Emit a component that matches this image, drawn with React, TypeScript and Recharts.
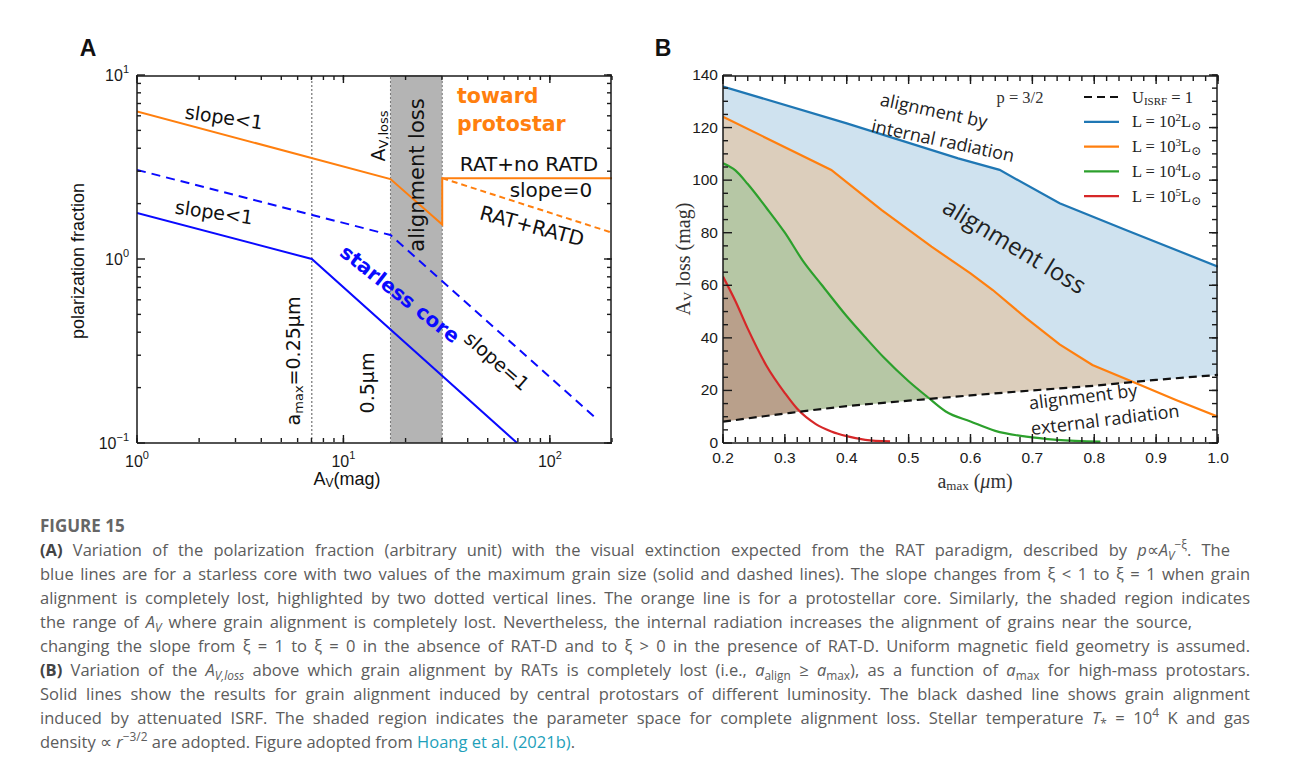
import React from 'react'
import { ComposedChart, Line, Area, XAxis, YAxis, ReferenceArea, ReferenceLine, Legend } from 'recharts'

// ---------- panel A: polarization fraction vs A_V (log-log) ----------
const protoAv = [1, 16.9, 30.1, 30.1, 200]
const protoP = [6.34, 2.72, 1.54, 2.75, 2.75]
const protoRatdAv = [30.1, 200]
const protoRatdP = [2.75, 1.39]
const starSmallAv = [1, 7.03, 69.4] // a_max = 0.25 um
const starSmallP = [1.78, 1.0, 0.1]
const starLargeAv = [1, 16.9, 164] // a_max = 0.5 um
const starLargeP = [3.05, 1.35, 0.139]
const lossFrom = 16.9
const lossTo = 30.1
const smallLossAv = 7.03

const aXMajor = [1, 10, 100]
const aYMajor = [0.1, 1, 10]
const aXTicks = [1, 2, 3, 4, 5, 6, 7, 8, 9, 10, 20, 30, 40, 50, 60, 70, 80, 90, 100, 200]
const aYTicks = [0.1, 0.2, 0.3, 0.4, 0.5, 0.6, 0.7, 0.8, 0.9, 1, 2, 3, 4, 5, 6, 7, 8, 9, 10]

// ---------- panel B: A_V,loss vs a_max ----------
const isrfA = [0.2, 0.3, 0.4, 0.5, 0.6, 0.7, 0.8, 0.9, 1.0]
const isrfAv = [8.1, 11.2, 14.0, 16.1, 18.1, 20.0, 21.8, 24.0, 25.9]
const l2A = [0.2, 0.4, 0.58, 0.647, 0.744, 0.851, 1.0]
const l2Av = [135.6, 121.6, 108.3, 103.9, 91.2, 81.0, 67.1]
const l3A = [0.2, 0.375, 0.456, 0.537, 0.6, 0.636, 0.69, 0.744, 0.797, 0.862, 0.932, 1.0]
const l3Av = [124.1, 103.9, 88.7, 74.7, 64.5, 58.2, 47.5, 37.5, 29.7, 23.3, 16.4, 10.0]
const l4A = [0.2, 0.22, 0.24, 0.27, 0.3, 0.33, 0.36, 0.4, 0.43, 0.46, 0.5, 0.53, 0.56, 0.6, 0.64, 0.69, 0.74, 0.81]
const l4Av = [106.4, 103.7, 98.5, 89.5, 80, 69, 60, 48.2, 40.2, 32.5, 23.5, 17.6, 12, 8.2, 4.6, 2.4, 1.2, 0.5]
const l5A = [0.2, 0.22, 0.24, 0.27, 0.3, 0.32, 0.35, 0.375, 0.4, 0.43, 0.47]
const l5Av = [63.3, 54, 43.5, 29.5, 19, 13, 7.2, 4.4, 2.6, 1.2, 0.6]

const bSeries = [
  { exp: '', color: '#111111', dash: '8 5', fill: '#ffffff', xs: isrfA, ys: isrfAv, curve: 'monotone' },
  { exp: '2', color: '#1f77b4', dash: undefined, fill: '#cfe2ef', xs: l2A, ys: l2Av, curve: 'linear' },
  { exp: '3', color: '#ff7f0e', dash: undefined, fill: '#dccebc', xs: l3A, ys: l3Av, curve: 'linear' },
  { exp: '4', color: '#2ca02c', dash: undefined, fill: '#b6c7a5', xs: l4A, ys: l4Av, curve: 'monotone' },
  { exp: '5', color: '#d62728', dash: undefined, fill: '#b9a08b', xs: l5A, ys: l5Av, curve: 'monotone' },
]
const bXMajor = [0.2, 0.3, 0.4, 0.5, 0.6, 0.7, 0.8, 0.9, 1.0]
const bYMajor = [0, 20, 40, 60, 80, 100, 120, 140]
const bXTicks = Array.from({ length: 41 }, (_, i) => (20 + 2 * i) / 100)
const bYTicks = Array.from({ length: 29 }, (_, i) => i * 5)

const pts = (xs: number[], ys: number[]) => xs.map((x, i) => ({ x, y: ys[i] }))

const SANS = '"Liberation Sans", Arial, sans-serif'
const NOTE = '"DejaVu Sans", sans-serif'
const SERIF = '"Liberation Serif", "DejaVu Serif", serif'
const ROUND = '"Open Sans", sans-serif'
const INK = '#1a1a1a'

// plot sizes, used to turn tick lengths (px) into data units on the left edge
const A_PLOT_W = 475
const B_PLOT_W = 495

const powLabel = (v: number) => {
  const e = Math.round(Math.log10(v))
  return e < 0 ? '\u2212' + Math.abs(e) : String(e)
}
const isPow10 = (v: number) => Math.abs(Math.log10(v) - Math.round(Math.log10(v))) < 1e-6

const aXLabel = (p: any) => (
  <text x={p.x} y={p.y + 24} textAnchor="middle" fontSize={16} fontFamily={SANS} fill={INK}>
    10<tspan dy={-8} fontSize={11}>{powLabel(p.payload.value)}</tspan>
  </text>
)
const aYLabel = (p: any) => (
  <text x={p.x - 8} y={p.y + 6} textAnchor="end" fontSize={16} fontFamily={SANS} fill={INK}>
    10<tspan dy={-8} fontSize={11}>{powLabel(p.payload.value)}</tspan>
  </text>
)
const bXLabel = (p: any) => (
  <text x={p.x} y={p.y + 20} textAnchor="middle" fontSize={15.5} fontFamily={SANS} fill={INK}>{Number(p.payload.value).toFixed(1)}</text>
)
const bYLabel = (p: any) => (
  <text x={p.x - 5} y={p.y + 5} textAnchor="end" fontSize={15.5} fontFamily={SANS} fill={INK}>{String(p.payload.value)}</text>
)
const noLabel = () => <g />

const axisLine = { stroke: INK, strokeWidth: 1.5 }
const tickLine = { stroke: INK, strokeWidth: 1.4 }

// inward tick marks on bottom, top and right: one mirrored axis per side and per tick length
function tickAxes(log: boolean, xDom: number[], yDom: number[], xAll: number[], xMaj: number[], yAll: number[], yMaj: number[], big: number, small: number) {
  const sc = (log ? 'log' : 'auto') as any
  const common = { type: 'number' as const, allowDataOverflow: true, interval: 0 as const, tick: noLabel, tickMargin: 0, mirror: true, tickLine }
  return [
    <XAxis key="bM" xAxisId="bM" orientation="bottom" dataKey="x" scale={sc} domain={xDom} ticks={xMaj} tickSize={big} height={1} axisLine={false} {...common} />,
    <XAxis key="bm" xAxisId="bm" orientation="bottom" dataKey="x" scale={sc} domain={xDom} ticks={xAll} tickSize={small} height={1} axisLine={false} {...common} />,
    <XAxis key="tM" xAxisId="tM" orientation="top" dataKey="x" scale={sc} domain={xDom} ticks={xMaj} tickSize={big} height={1} axisLine={false} {...common} />,
    <XAxis key="tm" xAxisId="tm" orientation="top" dataKey="x" scale={sc} domain={xDom} ticks={xAll} tickSize={small} height={1} axisLine={axisLine} {...common} />,
    <YAxis key="rM" yAxisId="rM" orientation="right" scale={sc} domain={yDom} ticks={yMaj} tickSize={big} width={1} axisLine={false} {...common} />,
    <YAxis key="rm" yAxisId="rm" orientation="right" scale={sc} domain={yDom} ticks={yAll} tickSize={small} width={1} axisLine={axisLine} {...common} />,
  ]
}

// left-edge tick marks as short reference segments
function leftTicks(ticks: number[], isMajor: (v: number) => boolean, x0: number, endX: (px: number) => number, big: number, small: number) {
  return ticks.map((v) => (
    <ReferenceLine key={'lt' + v} segment={[{ x: x0, y: v }, { x: endX(isMajor(v) ? big : small), y: v }]}
      stroke={INK} strokeWidth={1.4} ifOverflow="visible" />
  ))
}

// invisible copies of one curve, bound to the tick-only axes so each gets a domain
function anchors(data: any[]) {
  const pairs = [['bM', 'rM'], ['bm', 'rm'], ['tM', 'rM'], ['tm', 'rm']]
  return pairs.map(([xa, ya]) => (
    <Line key={xa + ya} data={data} dataKey="y" xAxisId={xa} yAxisId={ya} stroke="none" dot={false} activeDot={false} isAnimationActive={false} />
  ))
}

function PanelA() {
  const endX = (px: number) => Math.pow(10, (px * Math.log10(200)) / A_PLOT_W)
  return (
    <ComposedChart width={640} height={500} margin={{ top: 75, right: 28, bottom: 0, left: 0 }}>
      <ReferenceArea x1={lossFrom} x2={lossTo} fill="#b4b4b4" fillOpacity={1} stroke="none" />
      <ReferenceLine x={smallLossAv} stroke="#555" strokeDasharray="2 2" strokeWidth={1} />
      <ReferenceLine x={lossFrom} stroke="#777" strokeDasharray="2 2" strokeWidth={1} />
      <ReferenceLine x={lossTo} stroke="#777" strokeDasharray="2 2" strokeWidth={1} />
      <Line data={pts(protoAv, protoP)} dataKey="y" stroke="#ff7f0e" strokeWidth={2} dot={false} isAnimationActive={false} />
      <Line data={pts(protoRatdAv, protoRatdP)} dataKey="y" stroke="#ff7f0e" strokeWidth={2} strokeDasharray="6 4" dot={false} isAnimationActive={false} />
      <Line data={pts(starSmallAv, starSmallP)} dataKey="y" stroke="#0a0aff" strokeWidth={2} dot={false} isAnimationActive={false} />
      <Line data={pts(starLargeAv, starLargeP)} dataKey="y" stroke="#0a0aff" strokeWidth={2} strokeDasharray="9 6" dot={false} isAnimationActive={false} />
      {anchors(pts(starLargeAv, starLargeP))}
      {leftTicks(aYTicks, isPow10, 1, endX, 8, 4)}
      <XAxis dataKey="x" type="number" scale="log" domain={[1, 200]} allowDataOverflow ticks={aXMajor} interval={0}
        height={57} tickSize={0} tickMargin={0} tickLine={false} axisLine={axisLine} tick={aXLabel} />
      <YAxis type="number" scale="log" domain={[0.1, 10]} allowDataOverflow ticks={aYMajor} interval={0}
        width={137} tickSize={0} tickMargin={0} tickLine={false} axisLine={axisLine} tick={aYLabel} />
      {tickAxes(true, [1, 200], [0.1, 10], aXTicks, aXMajor, aYTicks, aYMajor, 8, 4)}
    </ComposedChart>
  )
}

function LegendB() {
  return (
    <svg width={150} height={124} style={{ display: 'block' }}>
      {bSeries.map((s, i) => {
        const y = 11 + i * 24.8
        return (
          <g key={i}>
            <line x1={0} x2={35} y1={y} y2={y} stroke={s.color} strokeWidth={2.2} strokeDasharray={s.dash} />
            {s.exp === '' ? (
              <text x={48} y={y + 5.5} fontFamily={SERIF} fontSize={16.5} fill="#222">
                U<tspan dy={2} fontSize={11}>ISRF</tspan><tspan dy={-2}> = 1</tspan>
              </text>
            ) : (
              <text x={48} y={y + 5.5} fontFamily={SERIF} fontSize={16.5} fill="#222">
                L = 10<tspan dy={-6} fontSize={11}>{s.exp}</tspan><tspan dy={6}>L</tspan><tspan dy={3} fontSize={12}>{'\u2299'}</tspan>
              </text>
            )}
          </g>
        )
      })}
    </svg>
  )
}

function PanelB() {
  const order = [1, 2, 3, 4, 0]
  const endX = (px: number) => 0.2 + (px * 0.8) / B_PLOT_W
  return (
    <ComposedChart width={640} height={500} margin={{ top: 75, right: 22, bottom: 0, left: 0 }}>
      {order.map((k) => (
        <Area key={'f' + k} data={pts(bSeries[k].xs, bSeries[k].ys)} dataKey="y" type={bSeries[k].curve as any}
          fill={bSeries[k].fill} fillOpacity={1} stroke="none" isAnimationActive={false} />
      ))}
      {order.map((k) => (
        <Line key={'l' + k} data={pts(bSeries[k].xs, bSeries[k].ys)} dataKey="y" type={bSeries[k].curve as any}
          stroke={bSeries[k].color} strokeWidth={2.2} strokeDasharray={bSeries[k].dash} dot={false} isAnimationActive={false} />
      ))}
      {anchors(pts(isrfA, isrfAv))}
      {leftTicks(bYTicks, (v) => bYMajor.includes(v), 0.2, endX, 9, 5)}
      <XAxis dataKey="x" type="number" domain={[0.2, 1.0]} allowDataOverflow ticks={bXMajor} interval={0}
        height={57} tickSize={0} tickMargin={0} tickLine={false} axisLine={axisLine} tick={bXLabel} />
      <YAxis type="number" domain={[0, 140]} allowDataOverflow ticks={bYMajor} interval={0}
        width={123} tickSize={0} tickMargin={0} tickLine={false} axisLine={axisLine} tick={bYLabel} />
      {tickAxes(false, [0.2, 1.0], [0, 140], bXTicks, bXMajor, bYTicks, bYMajor, 9, 5)}
      <Legend layout="horizontal" verticalAlign="middle" align="center" wrapperStyle={{ left: 484, top: 86, width: 150 }} content={() => <LegendB />} />
    </ComposedChart>
  )
}

function Note({ x, y, rot = 0, size = 19, color = '#111', weight = 400, family = NOTE, anchor = 'middle', children }: any) {
  return (
    <text x={x} y={y} transform={rot ? `rotate(${rot} ${x} ${y})` : undefined} textAnchor={anchor}
      dominantBaseline="central" fontSize={size} fill={color} fontWeight={weight} fontFamily={family}>
      {children}
    </text>
  )
}

function Overlay() {
  return (
    <svg width={1290} height={500} style={{ position: 'absolute', left: 0, top: 0, pointerEvents: 'none' }}>
      <Note x={88} y={48} size={23} weight={700} family={SANS}>A</Note>
      <Note x={663} y={48} size={23} weight={700} family={SANS}>B</Note>

      <Note x={78} y={261} rot={-90} size={18} family={SANS}>polarization fraction</Note>
      <Note x={347} y={479} size={18} family={SANS}>A<tspan dy={4} fontSize={12}>V</tspan><tspan dy={-4}>(mag)</tspan></Note>

      <Note x={224} y={117} rot={8}>slope&lt;1</Note>
      <Note x={214} y={212} rot={8}>slope&lt;1</Note>
      <Note x={378} y={136} rot={-90} size={19}>A<tspan dy={5} fontSize={13}>V,loss</tspan></Note>
      <Note x={417} y={175} rot={-90} size={21}>alignment loss</Note>
      <Note x={457} y={96} anchor="start" size={20.5} weight={700} color="#ff7f0e">toward</Note>
      <Note x={457} y={124} anchor="start" size={20.5} weight={700} color="#ff7f0e">protostar</Note>
      <Note x={529} y={164} size={20}>RAT+no RATD</Note>
      <Note x={551} y={190} size={20}>slope=0</Note>
      <Note x={532} y={226} rot={15} size={20}>RAT+RATD</Note>
      <Note x={400} y={294} rot={38} size={20} weight={700} color="#0a0aff">starless core</Note>
      <Note x={497} y={361} rot={41} size={19}>slope=1</Note>
      <Note x={293} y={361} rot={-90} size={19}>a<tspan dy={5} fontSize={13}>max</tspan><tspan dy={-5}>=0.25μm</tspan></Note>
      <Note x={367} y={383} rot={-90} size={19}>0.5μm</Note>

      <Note x={683} y={259} rot={-90} size={20} family={SERIF} color="#333">A<tspan dy={4} fontSize={13}>V</tspan><tspan dy={-4}> loss (mag)</tspan></Note>
      <Note x={975} y={481} size={20} family={SERIF} color="#333">a<tspan dy={4} fontSize={13}>max</tspan><tspan dy={-4}> (</tspan><tspan fontStyle="italic">μ</tspan>m)</Note>

      <Note x={1020} y={97} size={16.5} family={SERIF} color="#333">p = 3/2</Note>
      <Note x={934} y={110} rot={12} size={18} family={ROUND} color="#222">alignment by</Note>
      <Note x={943} y={140} rot={12} size={18} family={ROUND} color="#222">internal radiation</Note>
      <Note x={1015} y={245} rot={31} size={24} family={ROUND} color="#222">alignment loss</Note>
      <Note x={1083} y={396} rot={-7} size={18} family={ROUND} color="#222">alignment by</Note>
      <Note x={1105} y={419} rot={-7} size={18} family={ROUND} color="#222">external radiation</Note>
    </svg>
  )
}

const CAP = '"Open Sans", "Noto Sans", sans-serif'
const lineStyle = (w: number, just = true): React.CSSProperties => ({
  width: w, height: 24, lineHeight: '24px', textAlign: just ? 'justify' : 'left', textAlignLast: just ? 'justify' : 'left', whiteSpace: 'normal',
})
const sub: React.CSSProperties = { fontSize: '0.72em', verticalAlign: '-0.3em', lineHeight: 0 }
const sup: React.CSSProperties = { fontSize: '0.72em', verticalAlign: '0.55em', lineHeight: 0 }

function Caption() {
  return (
    <div style={{ position: 'absolute', left: 40, top: 516, fontFamily: CAP, color: '#5c5c5c', fontSize: 16.5 }}>
      <div style={{ fontWeight: 700, fontSize: 17, lineHeight: '20px', height: 22, color: '#666' }}>FIGURE 15</div>
      <div style={lineStyle(1190)}><b style={{ color: '#444' }}>(A)</b> Variation of the polarization fraction (arbitrary unit) with the visual extinction expected from the RAT paradigm, described by <i>p</i>∝<i>A</i><span style={sub}><i>V</i></span><span style={sup}>−ξ</span>. The</div>
      <div style={lineStyle(1210)}>blue lines are for a starless core with two values of the maximum grain size (solid and dashed lines). The slope changes from ξ &lt; 1 to ξ = 1 when grain</div>
      <div style={lineStyle(1210)}>alignment is completely lost, highlighted by two dotted vertical lines. The orange line is for a protostellar core. Similarly, the shaded region indicates</div>
      <div style={lineStyle(1152)}>the range of <i>A<span style={sub}>V</span></i> where grain alignment is completely lost. Nevertheless, the internal radiation increases the alignment of grains near the source,</div>
      <div style={lineStyle(1210)}>changing the slope from ξ = 1 to ξ = 0 in the absence of RAT-D and to ξ &gt; 0 in the presence of RAT-D. Uniform magnetic field geometry is assumed.</div>
      <div style={lineStyle(1210)}><b style={{ color: '#444' }}>(B)</b> Variation of the <i>A<span style={sub}>V,loss</span></i> above which grain alignment by RATs is completely lost (i.e., <i>a</i><span style={sub}>align</span> ≥ <i>a</i><span style={sub}>max</span>), as a function of <i>a</i><span style={sub}>max</span> for high-mass protostars.</div>
      <div style={lineStyle(1210)}>Solid lines show the results for grain alignment induced by central protostars of different luminosity. The black dashed line shows grain alignment</div>
      <div style={lineStyle(1210)}>induced by attenuated ISRF. The shaded region indicates the parameter space for complete alignment loss. Stellar temperature <i>T</i><span style={sub}>*</span> = 10<span style={sup}>4</span> K and gas</div>
      <div style={lineStyle(1210, false)}>density ∝ <i>r</i><span style={sup}>−3/2</span> are adopted. Figure adopted from <span style={{ color: '#1e9fba' }}>Hoang et al. (2021b)</span>.</div>
    </div>
  )
}

export default function App() {
  return (
    <div style={{ position: 'absolute', left: 0, top: 0, width: 1290, height: 776, background: '#fff', overflow: 'hidden' }}>
      <div style={{ position: 'absolute', left: 0, top: 0 }}><PanelA /></div>
      <div style={{ position: 'absolute', left: 600, top: 0 }}><PanelB /></div>
      <Overlay />
      <Caption />
    </div>
  )
}
